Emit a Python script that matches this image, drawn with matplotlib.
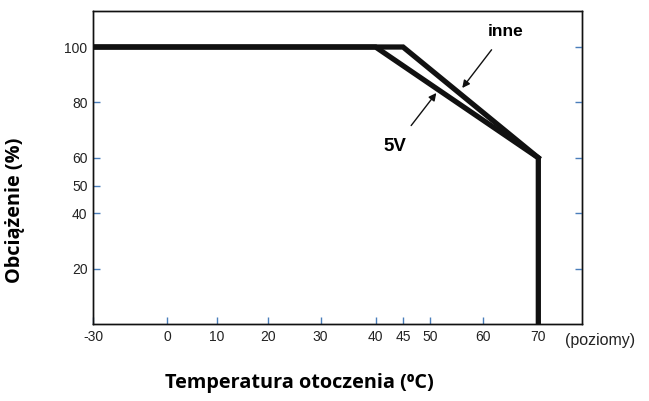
import numpy as np
import matplotlib
matplotlib.use('Agg')
import matplotlib.pyplot as plt
from matplotlib.scale import FuncScale

# derating curves (temperature in C, load in %)
temp_inne = [-30, 45, 70, 70]
load_inne = [100, 100, 60, 0]
temp_5v = [-30, 40, 70]
load_5v = [100, 100, 60]

xticks = [-30, 0, 10, 20, 30, 40, 45, 50, 60, 70]
yticks = [20, 40, 50, 60, 80, 100]
yticks_right = [20, 40, 60, 80, 100]

# axis is not linear in the original drawing: anchor values -> positions
anchor_val = np.array([-30, 0, 10, 20, 30, 40, 50, 60, 70, 80])
anchor_pos = np.array([93, 167, 217, 268, 321, 376, 431, 484, 539, 593], dtype=float)

def fwd(x):
    return np.interp(x, anchor_val, anchor_pos)

def inv(p):
    return np.interp(p, anchor_pos, anchor_val)

fig = plt.figure(figsize=(6.49, 4.01), dpi=100)
ax = fig.add_axes([93/649, 1-324/401, (582-93)/649, (324-11)/401])
ax.set_xscale(FuncScale(ax.xaxis, (fwd, inv)))

ax.plot(temp_5v, load_5v, color='#111111', lw=3.8, solid_joinstyle='miter', zorder=3)
ax.plot(temp_inne, load_inne, color='#111111', lw=3.8, solid_joinstyle='miter', zorder=3)

ax.set_xlim(-30, 78.1)
ax.set_ylim(0, 113)

tick_col = '#4a7ebb'
ax.set_xticks(xticks)
ax.set_xticklabels([str(t) for t in xticks])
ax.set_yticks(yticks)
ax.set_yticklabels([str(t) for t in yticks])
ax.tick_params(direction='in', length=5, width=1, color=tick_col,
               labelsize=10, pad=4)
for lab in ax.get_xticklabels() + ax.get_yticklabels():
    lab.set_family('Liberation Sans')
    lab.set_color('#222222')

ax2 = ax.twinx()
ax2.set_ylim(0, 113)
ax2.set_yticks(yticks_right)
ax2.tick_params(direction='in', length=5, width=1, color=tick_col, labelright=False)
for a in (ax, ax2):
    for s in a.spines.values():
        s.set_linewidth(1)
        s.set_color('#111111')

# annotations
ax.annotate('inne', xy=(56, 85.2), xytext=(64.0, 105.5),
            ha='center', va='center', fontsize=12.5, fontweight='bold',
            family='Liberation Sans', zorder=4,
            arrowprops=dict(arrowstyle='-|>', color='#111111', lw=1.0,
                            mutation_scale=11, shrinkA=7, shrinkB=0))
ax.annotate('5V', xy=(51.1, 83.4), xytext=(43.5, 64),
            ha='center', va='center', fontsize=13.5, fontweight='bold',
            family='Liberation Sans', zorder=4,
            arrowprops=dict(arrowstyle='-|>', color='#111111', lw=1.0,
                            mutation_scale=11, shrinkA=9, shrinkB=0))

fig.text(565/649, 1-341/401, '(poziomy)', fontsize=11.5, color='#222222',
         family='Liberation Sans', va='center', ha='left')
fig.text(299/649, 1-383/401, 'Temperatura otoczenia (\u2070C)', fontsize=14.3,
         fontweight='bold', family=['Open Sans', 'DejaVu Sans'],
         ha='center', va='center')
fig.text(15/649, 1-210/401, 'Obciążenie (%)', fontsize=14.3, rotation=90,
         fontweight='bold', family=['Open Sans', 'DejaVu Sans'],
         ha='center', va='center')

fig.savefig('out.png', dpi=100)
